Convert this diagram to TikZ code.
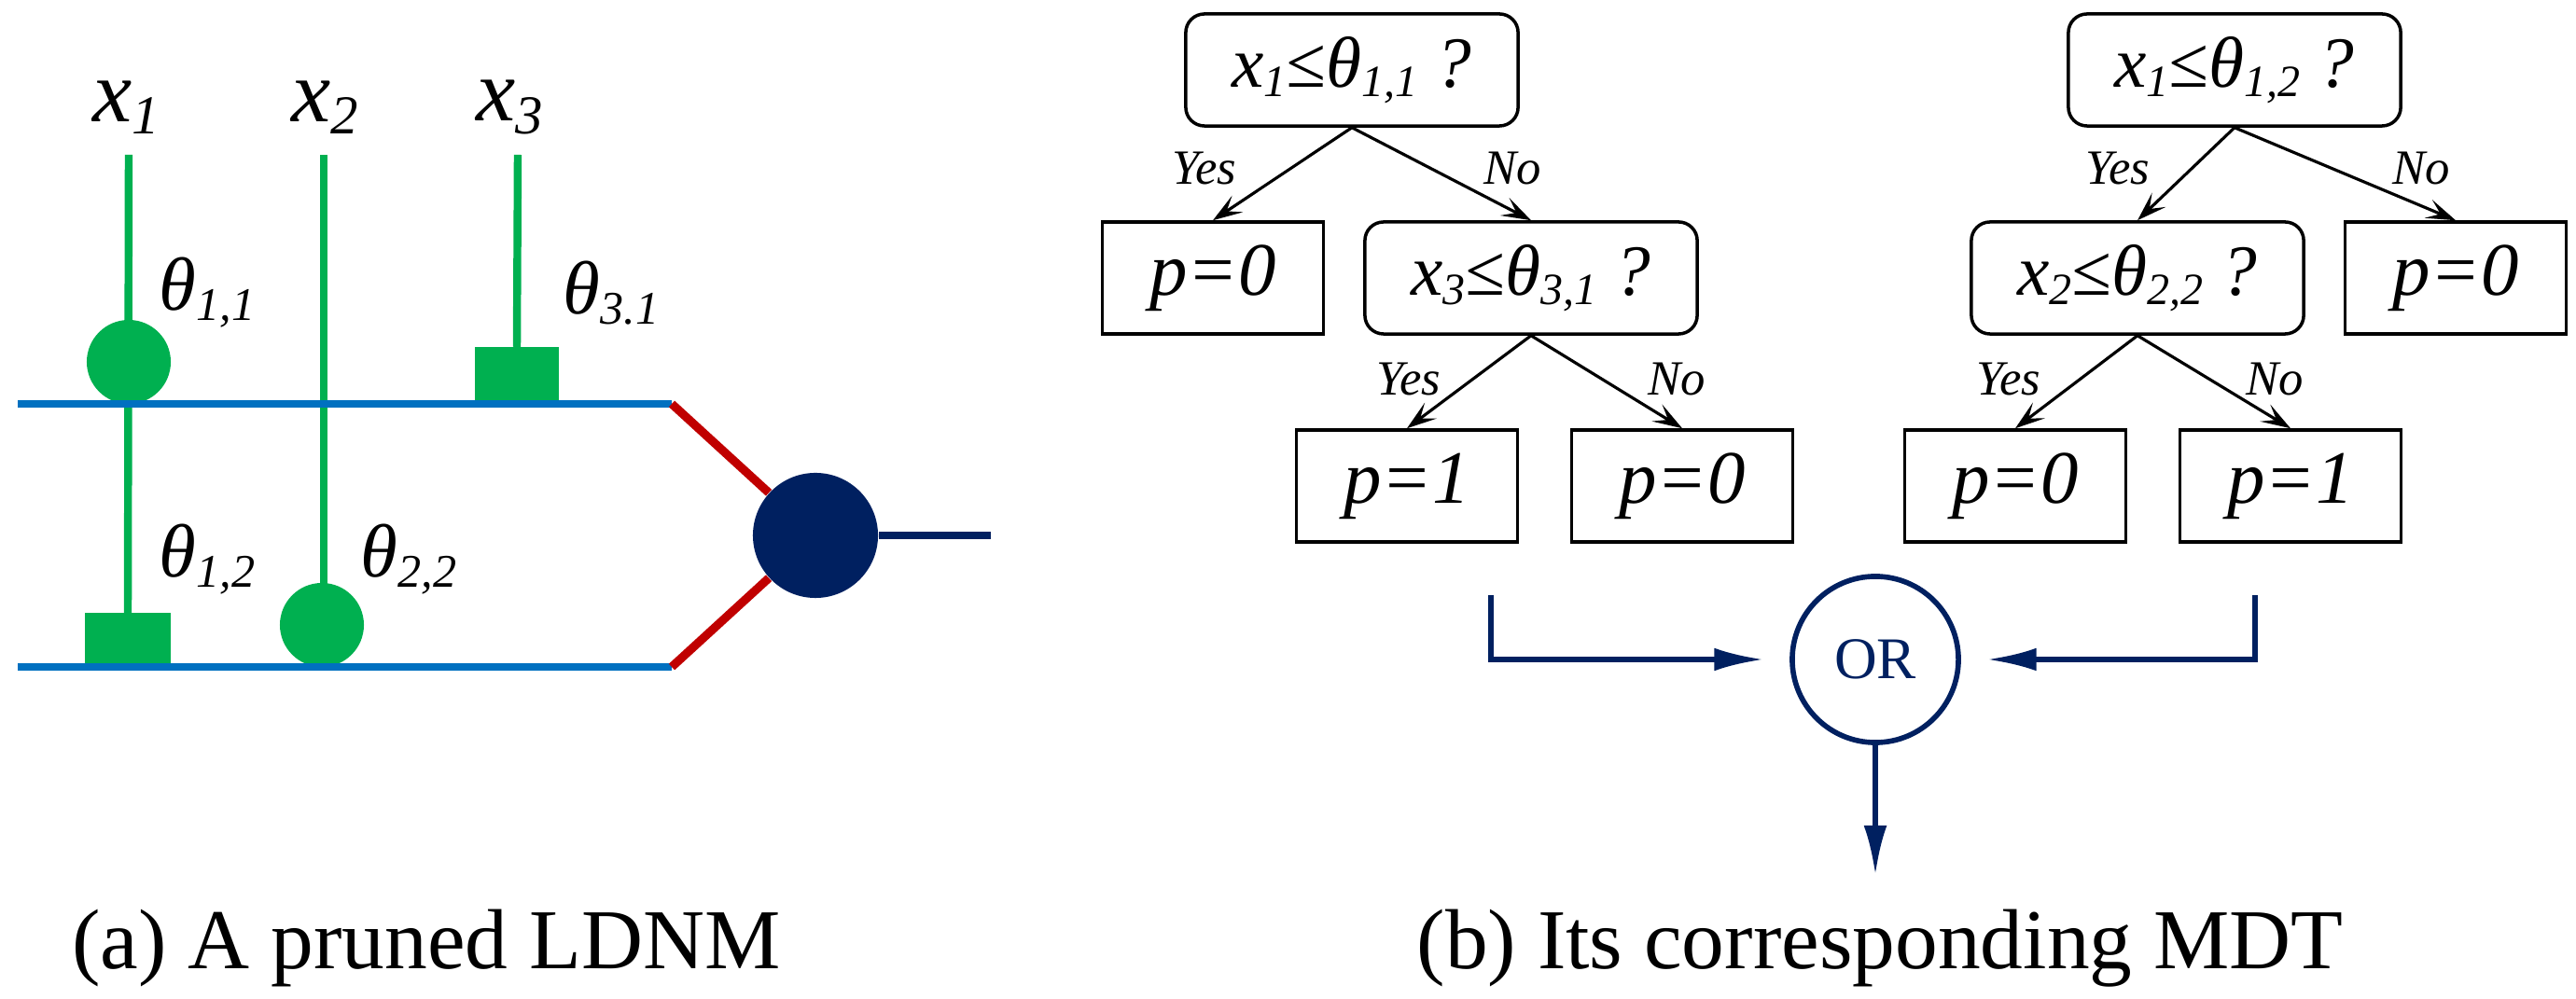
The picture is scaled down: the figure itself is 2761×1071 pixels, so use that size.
\documentclass[tikz,border=0pt]{standalone}
\usepackage{fontspec}
\setmainfont{Liberation Serif}
\usetikzlibrary{arrows.meta}
\definecolor{gr}{RGB}{0,176,80}
\definecolor{bl}{RGB}{0,112,192}
\definecolor{rd}{RGB}{192,0,0}
\definecolor{nv}{RGB}{0,32,96}
\newcommand{\sbs}[1]{\raisebox{-0.3ex}{\scalebox{0.62}{\itshape #1}}}
\begin{document}
\begin{tikzpicture}[x=0.01cm,y=-0.01cm,
  gline/.style={gr,line width=2.4pt},
  bline/.style={bl,line width=2.3pt},
  rline/.style={rd,line width=2.6pt},
  lab/.style={font=\fontsize{23}{26}\selectfont\itshape,inner sep=0pt},
  xl/.style={font=\fontsize{27}{30}\selectfont\itshape,inner sep=0pt},
  dec/.style={draw,rounded corners=0.2cm,line width=1pt,minimum width=3.56cm,minimum height=1.2cm,inner sep=0pt,font=\fontsize{22}{24}\selectfont\itshape},
  leaf/.style={draw,line width=1pt,minimum width=2.37cm,minimum height=1.2cm,inner sep=0pt,font=\fontsize{23}{24}\selectfont\itshape},
  tarr/.style={-{Stealth[length=9pt,width=6pt,inset=4pt]},line width=0.9pt},
  yn/.style={font=\fontsize{15}{16}\selectfont\itshape,inner sep=0pt},
  narr/.style={nv,line width=1.5pt,-{Latex[length=15pt,width=7pt]}},
  captxt/.style={font=\fontsize{26}{28}\selectfont,inner sep=0pt}]
\useasboundingbox (0,0) rectangle (2761,1071);
% ---- left panel ----
\node[xl] (x1) at (135,115) {x\sbs{1}};
\node[xl] (x2) at (348,115) {x\sbs{2}};
\node[xl] (x3) at (546,115) {x\sbs{3}};
\coordinate (t1) at (138,166); \coordinate (t2) at (347,166); \coordinate (t3) at (555,166);
\node[fill=gr,minimum width=0.9cm,minimum height=0.57cm,inner sep=0pt] (s31) at (554,401) {};
\node[fill=gr,minimum width=0.91cm,minimum height=0.53cm,inner sep=0pt] (s12) at (137,684) {};
\coordinate (bl1) at (19,433); \coordinate (br1) at (720,433);
\coordinate (bl2) at (19,715); \coordinate (br2) at (720,715);
\draw[gline] (t1) -- (s12.north);
\draw[gline] (t2) -- (347,670);
\draw[gline] (t3) -- (s31.north);
\node[circle,fill=gr,minimum size=0.9cm,inner sep=0pt] (c22) at (345,670) {};
\node[circle,fill=gr,minimum size=0.9cm,inner sep=0pt] (c11) at (138,388) {};
\draw[bline] (bl1) -- (br1);
\draw[bline] (bl2) -- (br2);
\node[circle,fill=nv,minimum size=1.34cm,inner sep=0pt] (big) at (874,574) {};
\draw[rline] (br1) -- (big);
\draw[rline] (br2) -- (big);
\coordinate (out) at (1062,574);
\draw[nv,line width=2.3pt] (big.east) -- (out);
\node[lab] (th11) at (222,314) {θ\sbs{1,1}};
\node[lab] (th31) at (655,314) {θ\sbs{3.1}};
\node[lab] (th12) at (222,600) {θ\sbs{1,2}};
\node[lab] (th22) at (438,600) {θ\sbs{2,2}};
\node[captxt] (capa) at (457,1017) {(a) A pruned LDNM};
% ---- right panel ----
\node[dec] (r1) at (1449,75) {x\sbs{1}≤θ\sbs{1,1} ?};
\node[dec] (r2) at (2395,75) {x\sbs{1}≤θ\sbs{1,2} ?};
\node[leaf] (l1) at (1300,298) {p=0};
\node[dec] (n3) at (1641,298) {x\sbs{3}≤θ\sbs{3,1} ?};
\node[dec] (n2) at (2291,298) {x\sbs{2}≤θ\sbs{2,2} ?};
\node[leaf] (l2) at (2632,298) {p=0};
\node[leaf] (a1) at (1508,521) {p=1};
\node[leaf] (a2) at (1803,521) {p=0};
\node[leaf] (a3) at (2160,521) {p=0};
\node[leaf] (a4) at (2455,521) {p=1};
\draw[tarr] (r1.south) -- (l1.north);
\draw[tarr] (r1.south) -- (n3.north);
\draw[tarr] (r2.south) -- (n2.north);
\draw[tarr] (r2.south) -- (l2.north);
\draw[tarr] (n3.south) -- (a1.north);
\draw[tarr] (n3.south) -- (a2.north);
\draw[tarr] (n2.south) -- (a3.north);
\draw[tarr] (n2.south) -- (a4.north);
\node[yn] at (1291,181) {Yes};
\node[yn] at (1621,181) {No};
\node[yn] at (2270,181) {Yes};
\node[yn] at (2595,181) {No};
\node[yn] at (1510,407) {Yes};
\node[yn] at (1797,407) {No};
\node[yn] at (2153,407) {Yes};
\node[yn] at (2438,407) {No};
\node[circle,draw=nv,line width=1.6pt,minimum size=1.78cm,inner sep=0pt,text=nv,font=\fontsize{18}{20}\selectfont] (or) at (2010,707) {OR};
\coordinate (ls) at (1598,638); \coordinate (rs) at (2417,638);
\coordinate (dn) at (2010,938);
\draw[narr,shorten >=0.28cm] (ls) |- (or.west);
\draw[narr,shorten >=0.28cm] (rs) |- (or.east);
\draw[narr] (or.south) -- (dn);
\node[captxt] (capb) at (2015,1017) {(b) Its corresponding MDT};
\end{tikzpicture}
\end{document}
